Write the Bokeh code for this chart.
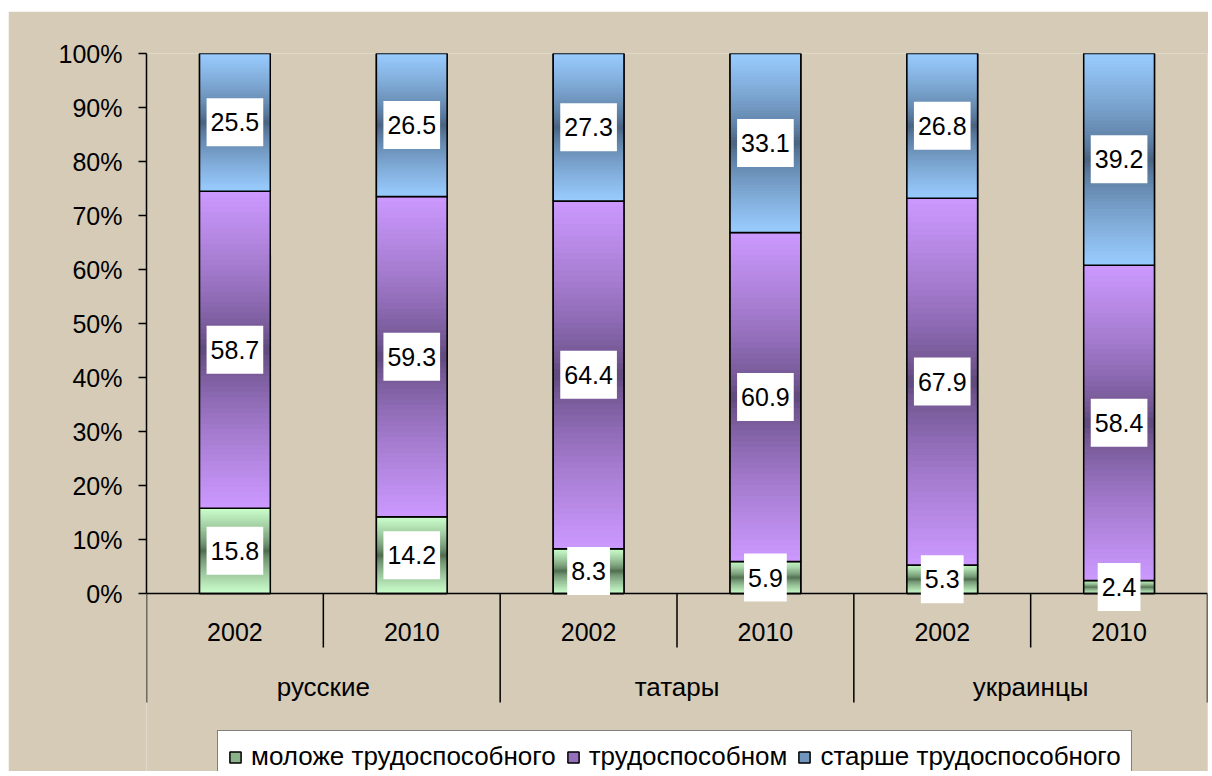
import numpy as np
from bokeh.plotting import figure
from bokeh.models import (Range1d, FixedTicker, PrintfTickFormatter, Legend,
                          LegendItem, ColumnDataSource)
from bokeh.core.properties import value
from bokeh.embed import file_html
from bokeh.resources import INLINE

# ---------------- data ----------------
groups = ["русские", "татары", "украинцы"]
years = ["2002", "2010"]
younger = [15.8, 14.2, 8.3, 5.9, 5.3, 2.4]
working = [58.7, 59.3, 64.4, 60.9, 67.9, 58.4]
older = [25.5, 26.5, 27.3, 33.1, 26.8, 39.2]
series_names = ["моложе трудоспособного", "трудоспособном", "старше трудоспособного"]
y_ticks = [0, 10, 20, 30, 40, 50, 60, 70, 80, 90, 100]

# ---------------- style ----------------
FONT = "Liberation Sans"
FS = "25px"
GROUP_FS = "26px"
LEG_FS = "26px"
BG = "#d5cbb7"
edge_colors = ["#ccffcc", "#cc99ff", "#99ccff"]
center_colors = ["#4a664a", "#5c4677", "#465f7d"]
BAR_W = 0.4
N_STRIPS = 60


def hex2rgb(h):
    h = h.lstrip("#")
    return np.array([int(h[i:i + 2], 16) for i in (0, 2, 4)], dtype=float)


def rgb2hex(c):
    c = np.clip(np.round(c), 0, 255).astype(int)
    return "#%02x%02x%02x" % tuple(c)


series = [younger, working, older]
n = len(younger)
xs = np.arange(n) + 0.5
vals = np.array(series, dtype=float)
totals = vals.sum(axis=0)
pct = vals / totals * 100.0
tops = np.cumsum(pct, axis=0)
bottoms = tops - pct

p = figure(width=1200, height=760,
           x_range=Range1d(0, n), y_range=Range1d(-32.96, 100),
           output_backend="svg", toolbar_location=None,
           x_axis_location=None,
           min_border_left=138, min_border_right=1,
           min_border_top=42, min_border_bottom=0,
           background_fill_color=BG, border_fill_color=BG,
           outline_line_color=None, margin=(11, 0, 0, 8))
p.xgrid.visible = False
p.ygrid.visible = False

yax = p.yaxis[0]
yax.ticker = FixedTicker(ticks=y_ticks)
yax.bounds = (0, 100)
yax.formatter = PrintfTickFormatter(format="%d%%")
yax.major_label_text_font = FONT
yax.major_label_text_font_size = FS
yax.major_label_text_color = "black"
yax.axis_line_color = "black"
yax.axis_line_width = 1.5
yax.major_tick_line_color = "black"
yax.major_tick_line_width = 1.5
yax.major_tick_out = 8
yax.major_tick_in = 0
yax.minor_tick_out = 0
yax.minor_tick_in = 0
yax.major_label_standoff = 16

base_renderers = []
for s in range(len(series)):
    edge = hex2rgb(edge_colors[s])
    cen = hex2rgb(center_colors[s])
    mid_col = rgb2hex((edge + cen) / 2)
    src = ColumnDataSource(dict(x=xs, bottom=bottoms[s], top=tops[s]))
    r = p.vbar(x="x", bottom="bottom", top="top", width=BAR_W, source=src,
               fill_color=mid_col, line_color="black", line_width=1.5)
    base_renderers.append(r)
    # gradient strips (light edges, dark centre)
    L, R, B, T, C = [], [], [], [], []
    for i in range(n):
        b, t = bottoms[s][i], tops[s][i]
        h = t - b
        for k in range(N_STRIPS):
            um = (k + 0.5) / N_STRIPS
            d = abs(2 * um - 1)
            f = d ** 0.7
            col = cen + (edge - cen) * f
            L.append(xs[i] - BAR_W / 2)
            R.append(xs[i] + BAR_W / 2)
            B.append(b + h * k / N_STRIPS)
            T.append(min(b + h * (k + 1.8) / N_STRIPS, t))
            C.append(rgb2hex(col))
    p.quad(left=L, right=R, bottom=B, top=T, fill_color=C, line_color=None)
    # outline
    p.vbar(x="x", bottom="bottom", top="top", width=BAR_W, source=src,
           fill_alpha=0, line_color="black", line_width=1.5)

# category axis (Excel style)
ny = len(years)
p.segment(x0=[0], y0=[0], x1=[n], y1=[0], line_color="black", line_width=1.5)
bounds = np.arange(n + 1)
inner = [b for b in bounds if b % ny != 0]
outer = [b for b in bounds if b % ny == 0]
p.segment(x0=inner, y0=[0] * len(inner), x1=inner, y1=[-10.0] * len(inner),
          line_color="black", line_width=1.5)
p.segment(x0=outer, y0=[0] * len(outer), x1=outer, y1=[-20.2] * len(outer),
          line_color="black", line_width=1.5)

year_labels = [years[i % ny] for i in range(n)]
p.text(x=xs, y=[-7.2] * n, text=year_labels, text_font=value(FONT),
       text_font_size=value(FS), text_align="center", text_baseline="middle",
       text_color="black")
gx = [g * ny + ny / 2 for g in range(len(groups))]
p.text(x=gx, y=[-17.4] * len(groups), text=groups, text_font=value(FONT),
       text_font_size=value(GROUP_FS), text_align="center", text_baseline="middle",
       text_color="black")

# data labels in white boxes
for s in range(len(series)):
    mids = (bottoms[s] + tops[s]) / 2
    p.text(x=xs, y=mids, text=["%.1f" % v for v in series[s]],
           text_font=value(FONT), text_font_size=value(FS),
           text_align="center", text_baseline="middle", text_color="black",
           background_fill_color="white", padding=(4, 15))

legend = Legend(items=[LegendItem(label=series_names[s], renderers=[base_renderers[s]])
                       for s in range(len(series))],
                location=(71, -12), orientation="horizontal",
                label_text_font=FONT, label_text_font_size=LEG_FS,
                label_text_color="black",
                glyph_width=14, glyph_height=14, label_standoff=9,
                spacing=10, padding=10, margin=0,
                border_line_color="black", border_line_width=1.5,
                background_fill_color="white", background_fill_alpha=1.0)
p.add_layout(legend)

open("out.html", "w").write(file_html(p, INLINE))
